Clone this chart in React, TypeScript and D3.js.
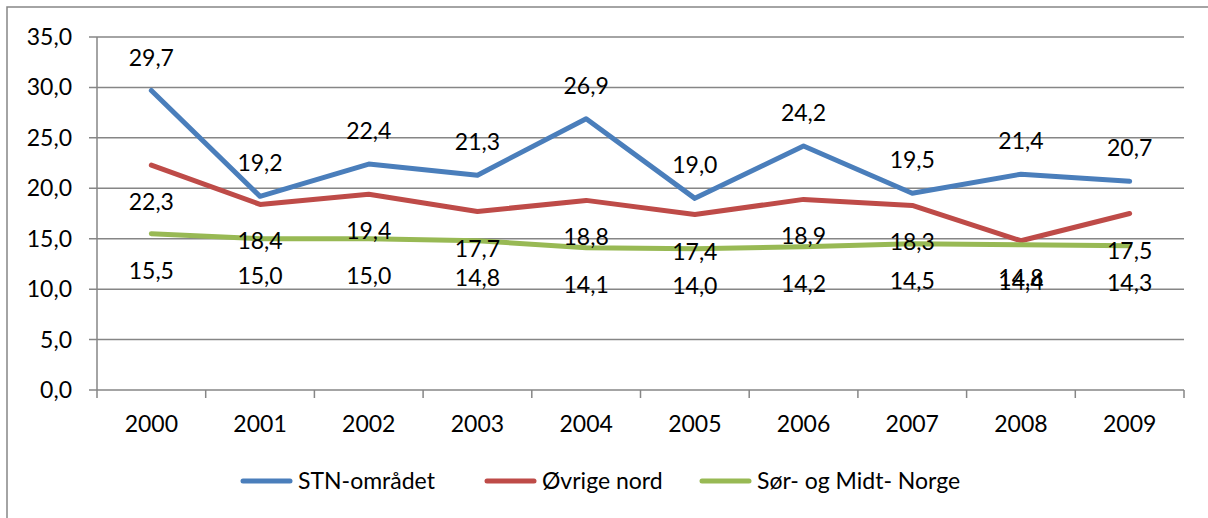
import { useRef, useEffect } from "react";
import * as d3 from "d3";

const years = ["2000", "2001", "2002", "2003", "2004", "2005", "2006", "2007", "2008", "2009"];
const stn = [29.7, 19.2, 22.4, 21.3, 26.9, 19.0, 24.2, 19.5, 21.4, 20.7];
const ovrigeNord = [22.3, 18.4, 19.4, 17.7, 18.8, 17.4, 18.9, 18.3, 14.8, 17.5];
const sorMidt = [15.5, 15.0, 15.0, 14.8, 14.1, 14.0, 14.2, 14.5, 14.4, 14.3];
const yTicks = [0, 5, 10, 15, 20, 25, 30, 35];

const series = [
  { name: "STN-området", values: stn, color: "#4A7EBB", labelPos: "above" },
  { name: "Øvrige nord", values: ovrigeNord, color: "#BE4B48", labelPos: "below" },
  { name: "Sør- og Midt- Norge", values: sorMidt, color: "#98B954", labelPos: "below" },
];

const FONT = "Lato, 'Open Sans', sans-serif";
const FS = 23;
const fmt = (v: number) => v.toFixed(1).replace(".", ",");

const App = () => {
  const svgRef = useRef<SVGSVGElement>(null);

  useEffect(() => {
    const svg = d3.select(svgRef.current);
    svg.selectAll("*").remove();

    const width = 1208;
    const height = 518;
    const margin = { top: 37, right: 24, bottom: 128, left: 97 };
    const innerW = width - margin.left - margin.right;
    const innerH = height - margin.top - margin.bottom;

    // outer chart frame (runs off right/bottom edge like the source)
    svg
      .append("rect")
      .attr("x", 7)
      .attr("y", 7)
      .attr("width", 1220)
      .attr("height", 530)
      .attr("fill", "#fff")
      .attr("stroke", "#868686")
      .attr("stroke-width", 1.5);

    const chart = svg.append("g").attr("transform", `translate(${margin.left},${margin.top})`);

    const x = d3.scaleBand().domain(years).range([0, innerW]).padding(0);
    const y = d3.scaleLinear().domain([0, 35]).range([innerH, 0]);

    // gridlines + y labels
    chart
      .append("g")
      .selectAll("line")
      .data(yTicks)
      .join("line")
      .attr("x1", -8)
      .attr("x2", innerW)
      .attr("y1", (d) => y(d))
      .attr("y2", (d) => y(d))
      .attr("stroke", "#868686")
      .attr("stroke-width", 1.5);

    chart
      .append("g")
      .selectAll("text")
      .data(yTicks)
      .join("text")
      .attr("x", -25)
      .attr("y", (d) => y(d))
      .attr("dy", "0.35em")
      .attr("text-anchor", "end")
      .attr("font-family", FONT)
      .attr("font-size", FS)
      .attr("fill", "#000")
      .text((d) => fmt(d));

    // y axis line
    chart
      .append("line")
      .attr("x1", 0)
      .attr("x2", 0)
      .attr("y1", 0)
      .attr("y2", innerH + 8)
      .attr("stroke", "#868686")
      .attr("stroke-width", 1.5);

    // x ticks at band edges
    const edges = years.map((d) => x(d) as number).concat([innerW]);
    chart
      .append("g")
      .selectAll("line")
      .data(edges.slice(1))
      .join("line")
      .attr("x1", (d) => d)
      .attr("x2", (d) => d)
      .attr("y1", innerH)
      .attr("y2", innerH + 8)
      .attr("stroke", "#868686")
      .attr("stroke-width", 1.5);

    chart
      .append("g")
      .selectAll("text")
      .data(years)
      .join("text")
      .attr("x", (d) => (x(d) as number) + x.bandwidth() / 2)
      .attr("y", innerH + 34)
      .attr("dy", "0.35em")
      .attr("text-anchor", "middle")
      .attr("font-family", FONT)
      .attr("font-size", FS)
      .attr("fill", "#000")
      .text((d) => d);

    const line = d3
      .line<number>()
      .x((_, i) => (x(years[i]) as number) + x.bandwidth() / 2);

    series.forEach((s) => {
      chart
        .append("path")
        .datum(s.values)
        .attr("fill", "none")
        .attr("stroke", s.color)
        .attr("stroke-width", 5)
        .attr("stroke-linejoin", "round")
        .attr("stroke-linecap", "round")
        .attr("d", line.y((d) => y(d)));
    });

    series.forEach((s) => {
      chart
        .append("g")
        .selectAll("text")
        .data(s.values)
        .join("text")
        .attr("x", (_, i) => (x(years[i]) as number) + x.bandwidth() / 2)
        .attr("y", (d) => y(d) + (s.labelPos === "above" ? -33 : 37))
        .attr("dy", "0.35em")
        .attr("text-anchor", "middle")
        .attr("font-family", FONT)
        .attr("font-size", FS)
        .attr("fill", "#000")
        .text((d) => fmt(d));
    });

    // legend
    const legendX = [243, 487, 702];
    const legend = svg.append("g").attr("transform", "translate(0,481)");
    series.forEach((s, i) => {
      legend
        .append("line")
        .attr("x1", legendX[i])
        .attr("x2", legendX[i] + 47)
        .attr("y1", 0)
        .attr("y2", 0)
        .attr("stroke", s.color)
        .attr("stroke-width", 5)
        .attr("stroke-linecap", "round");
      legend
        .append("text")
        .attr("x", legendX[i] + 55)
        .attr("y", 0)
        .attr("dy", "0.35em")
        .attr("font-family", FONT)
        .attr("font-size", FS)
        .attr("fill", "#000")
        .text(s.name);
    });
  }, []);

  return (
    <svg
      ref={svgRef}
      width={1208}
      height={518}
      style={{ position: "absolute", left: 0, top: 0, display: "block" }}
    ></svg>
  );
};

export default App;
